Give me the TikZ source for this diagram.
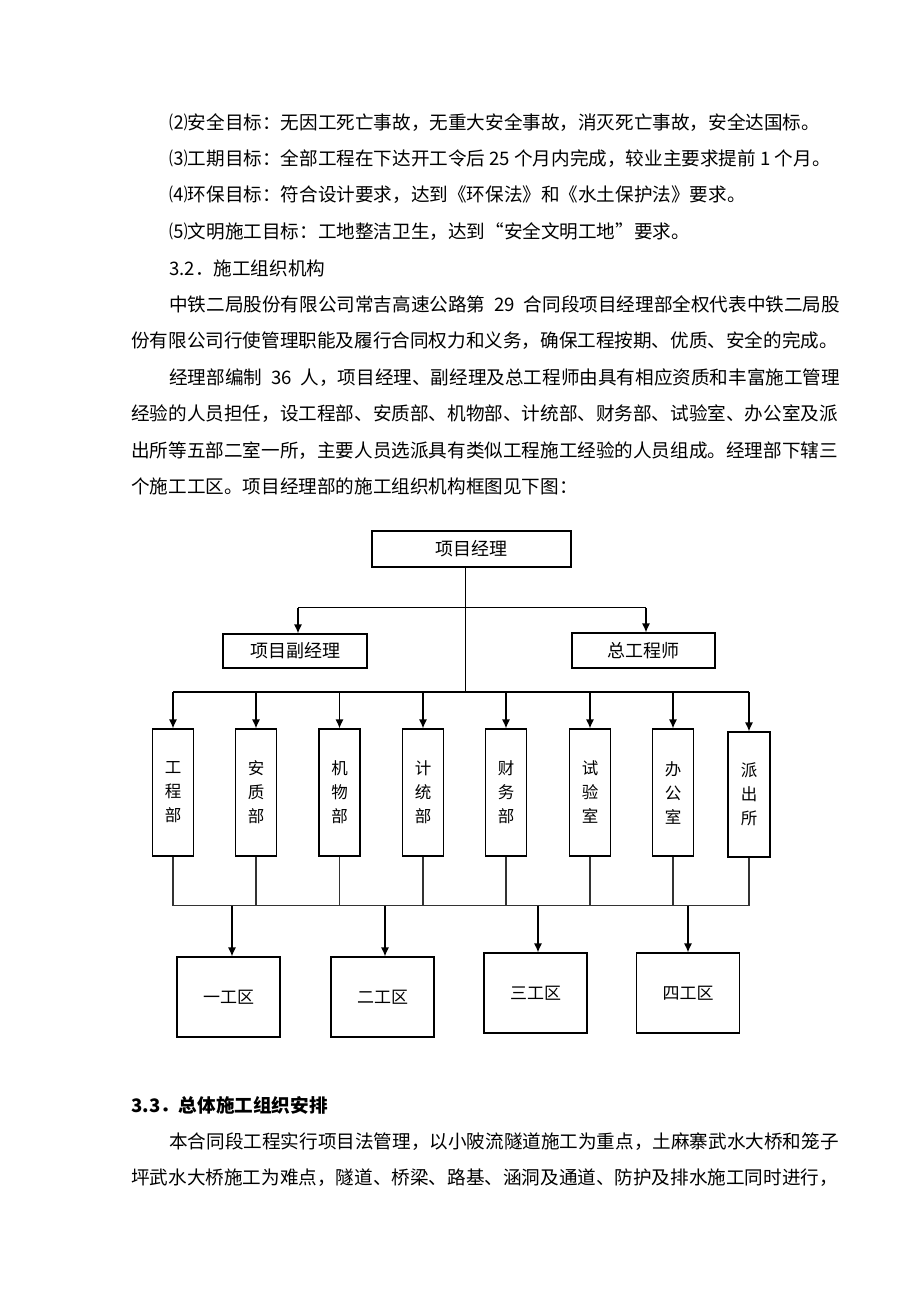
\documentclass[tikz,border=0pt]{standalone}
\usepackage{fontspec}
\setmainfont{Noto Sans CJK SC}
\usetikzlibrary{arrows.meta}
\XeTeXlinebreaklocale "zh"
\XeTeXlinebreakskip=0pt plus 2pt
\tikzset{
  txt/.style={anchor=base west, inner sep=0pt, font=\fontsize{18.6}{18.6}\selectfont},
  boxa/.style={draw, line width=1.2pt, inner sep=0pt, font=\fontsize{18}{18}\selectfont},
  dept/.style={draw, line width=1.2pt, inner sep=0pt, minimum width=41pt, align=center, font=\fontsize{16.5}{24}\selectfont},
  area/.style={draw, line width=1.2pt, inner sep=0pt, minimum width=103pt, minimum height=80pt, font=\fontsize{17}{17}\selectfont},
  arr/.style={line width=1.2pt, -{Latex[length=9pt,width=8pt]}},
  ln/.style={line width=1.2pt},
  lnb/.style={line width=1.1pt, black!80},
}
\newcommand{\jline}[2]{\makebox[#1][s]{#2}}
\begin{document}
\begin{tikzpicture}[x=1pt,y=-1pt]
\useasboundingbox (0,0) rectangle (920,1302);
\fill[white] (0,0) rectangle (920,1302);
% ---- text above ----
\node[txt] (l1) at (169,129) {⑵安全目标：无因工死亡事故，无重大安全事故，消灭死亡事故，安全达国标。};
\node[txt] (l2) at (169,165) {⑶工期目标：全部工程在下达开工令后 25 个月内完成，较业主要求提前 1 个月。};
\node[txt] (l3) at (169,201) {⑷环保目标：符合设计要求，达到《环保法》和《水土保护法》要求。};
\node[txt] (l4) at (169,238) {⑸文明施工目标：工地整洁卫生，达到“安全文明工地”要求。};
\node[txt] (l5) at (169,275) {3.2．施工组织机构};
\node[txt] (l6) at (169,311) {\jline{671pt}{中铁二局股份有限公司常吉高速公路第 29 合同段项目经理部全权代表中铁二局股}};
\node[txt] (l7) at (131,347) {\jline{709pt}{份有限公司行使管理职能及履行合同权力和义务，确保工程按期、优质、安全的完成。}};
\node[txt] (l8) at (169,384) {\jline{671pt}{经理部编制 36 人，项目经理、副经理及总工程师由具有相应资质和丰富施工管理}};
\node[txt] (l9) at (131,420) {\jline{709pt}{经验的人员担任，设工程部、安质部、机物部、计统部、财务部、试验室、办公室及派}};
\node[txt] (l10) at (131,457) {\jline{709pt}{出所等五部二室一所，主要人员选派具有类似工程施工经验的人员组成。经理部下辖三}};
\node[txt] (l11) at (131,493) {个施工工区。项目经理部的施工组织机构框图见下图：};
% ---- chart ----
\node[boxa, minimum width=199pt, minimum height=36pt] (pm) at (471.5,549) {项目经理};
\node[boxa, minimum width=144pt, minimum height=34pt] (vp) at (295,651) {项目副经理};
\node[boxa, minimum width=143pt, minimum height=35pt] (ce) at (643.5,650.5) {总工程师};
\coordinate (top) at (465.5,567);
\coordinate (j1) at (465.5,607.5);
\coordinate (j2) at (465.5,692);
\coordinate (v1) at (298,607.5);
\coordinate (v2) at (646,607.5);
\draw[ln] (top) -- (j2);
\draw[ln] (v1) -- (v2);
\draw[arr] (v1) -- (v1 |- vp.north);
\draw[arr] (v2) -- (v2 |- ce.north);
% departments
\node[dept, minimum height=127pt] (d1) at (173,792.5) {工\\程\\部};
\node[dept, minimum height=127pt] (d2) at (256,792.5) {安\\质\\部};
\node[dept, minimum height=127pt] (d3) at (339.5,792.5) {机\\物\\部};
\node[dept, minimum height=127pt] (d4) at (423,792.5) {计\\统\\部};
\node[dept, minimum height=127pt] (d5) at (506,792.5) {财\\务\\部};
\node[dept, minimum height=127pt] (d6) at (590,792.5) {试\\验\\室};
\node[dept, minimum height=127pt] (d7) at (673,792.5) {办\\公\\室};
\node[dept, minimum height=125pt, minimum width=42pt] (d8) at (749,794.5) {派\\出\\所};
\draw[ln] (d1.north |- j2) -- (d8.north |- j2);
\foreach \i in {1,...,8} {
  \draw[arr] (d\i.north |- j2) -- (d\i.north);
}
% lower bus
\coordinate (bus) at (0,905.5);
\foreach \i in {1,...,8} {
  \draw[lnb] (d\i.south) -- (d\i.south |- bus);
}
\draw[lnb] (d1.south |- bus) -- (d8.south |- bus);
% work areas
\node[area] (a1) at (228.5,997) {一工区};
\node[area] (a2) at (382.5,997) {二工区};
\node[area] (a3) at (535.5,993) {三工区};
\node[area] (a4) at (688,993) {四工区};
\coordinate (t1) at (232,905.5);
\coordinate (t2) at (385,905.5);
\coordinate (t3) at (538,905.5);
\coordinate (t4) at (688,905.5);
\draw[arr] (t1) -- (t1 |- a1.north);
\draw[arr] (t2) -- (t2 |- a2.north);
\draw[arr] (t3) -- (t3 |- a3.north);
\draw[arr] (t4) -- (t4 |- a4.north);
% ---- text below ----
\node[txt, font=\fontsize{18.6}{18.6}\selectfont\bfseries] (b1) at (131,1112) {3.3．总体施工组织安排};
\node[txt] (b2) at (169,1148) {\jline{671pt}{本合同段工程实行项目法管理，以小陂流隧道施工为重点，土麻寨武水大桥和笼子}};
\node[txt] (b3) at (131,1184) {\jline{709pt}{坪武水大桥施工为难点，隧道、桥梁、路基、涵洞及通道、防护及排水施工同时进行，}};
\end{tikzpicture}
\end{document}
